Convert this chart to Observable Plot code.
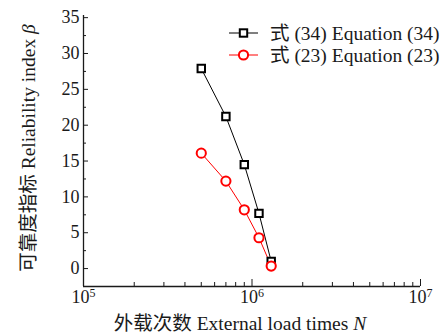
<!DOCTYPE html>
<html>
<head>
<meta charset="utf-8">
<script src="https://cdn.jsdelivr.net/npm/d3@7"></script>
<script src="https://cdn.jsdelivr.net/npm/@observablehq/plot@0.6"></script>
<style>
  html, body { margin: 0; padding: 0; background: #fff; }
  #chart { position: relative; width: 444px; height: 336px; }
  svg text { font-family: "Liberation Serif", "Noto Sans CJK SC", serif; }
</style>
</head>
<body>
<div id="chart"></div>
<script>
// ---- data ----
const loadTimes = [5.0e5, 7.0e5, 9.0e5, 1.1e6, 1.3e6];
const betaEq34 = [27.9, 21.2, 14.5, 7.7, 1.0];
const betaEq23 = [16.1, 12.2, 8.2, 4.3, 0.35];
const seriesNames = ["式 (34) Equation (34)", "式 (23) Equation (23)"];
const seriesColors = ["#000000", "#ff0000"];
const yTicks = [0, 5, 10, 15, 20, 25, 30, 35];
const yMinorTicks = [2.5, 7.5, 12.5, 17.5, 22.5, 27.5, 32.5];
const xTicks = [1e5, 1e6, 1e7];
const xMinorTicks = [2e5,3e5,4e5,5e5,6e5,7e5,8e5,9e5,2e6,3e6,4e6,5e6,6e6,7e6,8e6,9e6];
const xTitle = "外载次数 External load times ";
const yTitle = "可靠度指标 Reliability index ";

const d34 = loadTimes.map((n, i) => ({N: n, beta: betaEq34[i]}));
const d23 = loadTimes.map((n, i) => ({N: n, beta: betaEq23[i]}));
const xDomain = [1e5, 1e7];
const yDomain = [-2.5, 35.3];

const plot = Plot.plot({
  width: 444,
  height: 336,
  marginLeft: 83,
  marginRight: 24,
  marginTop: 15,
  marginBottom: 50,
  style: {fontFamily: '"Liberation Serif", "Noto Sans CJK SC", serif', fontSize: "18px", color: "#1a1a1a", background: "#fff"},
  x: {type: "log", domain: xDomain},
  y: {domain: yDomain},
  marks: [
    Plot.ruleX([xDomain[0]], {stroke: "#1a1a1a", strokeWidth: 1.3}),
    Plot.ruleY([yDomain[0]], {stroke: "#1a1a1a", strokeWidth: 1.3}),
    Plot.axisY({ticks: yTicks, tickSize: -5, tickPadding: 9, tickFormat: d => d, fontSize: 18, label: null, stroke: "#1a1a1a"}),
    Plot.axisY({ticks: yMinorTicks, tickSize: -3, tickFormat: () => "", label: null}),
    Plot.axisX({ticks: xTicks, tickSize: -7, tickPadding: 11, tickFormat: d => "10|" + Math.round(Math.log10(d)), fontSize: 18, label: null}),
    Plot.axisX({ticks: xMinorTicks, tickSize: -4, tickFormat: () => "", label: null}),
    Plot.line(d34, {x: "N", y: "beta", stroke: seriesColors[0], strokeWidth: 1}),
    Plot.line(d23, {x: "N", y: "beta", stroke: seriesColors[1], strokeWidth: 1}),
    Plot.dot(d34, {x: "N", y: "beta", symbol: "square", r: 4.2, stroke: seriesColors[0], strokeWidth: 2, fill: "white"}),
    Plot.dot(d23, {x: "N", y: "beta", symbol: "circle", r: 4.6, stroke: seriesColors[1], strokeWidth: 2, fill: "white"})
  ]
});

document.getElementById("chart").appendChild(plot);

// superscript exponents in x tick labels
const svg = d3.select(plot);
svg.selectAll("text").each(function() {
  const t = d3.select(this);
  const s = t.text();
  if (/^10\|\d$/.test(s)) {
    const e = s.split("|")[1];
    t.text("10");
    t.append("tspan").attr("dy", "-0.55em").attr("font-size", "12px").text(e);
  }
});

// axis titles
svg.append("text")
  .attr("x", 240).attr("y", 330)
  .attr("text-anchor", "middle").attr("font-size", 19.5).attr("fill", "#1a1a1a")
  .text(xTitle)
  .append("tspan").attr("font-style", "italic").text("N");
svg.append("text")
  .attr("transform", "translate(35,148) rotate(-90)")
  .attr("text-anchor", "middle").attr("font-size", 19.5).attr("fill", "#1a1a1a")
  .text(yTitle)
  .append("tspan").attr("font-style", "italic").text("β");

// legend
const lg = svg.append("g").attr("transform", "translate(229,33)");
seriesNames.forEach((name, i) => {
  const g = lg.append("g").attr("transform", `translate(0,${i * 22})`);
  g.append("line").attr("x1", 0).attr("x2", 29).attr("y1", 0).attr("y2", 0)
    .attr("stroke", seriesColors[i]).attr("stroke-width", 1);
  if (i === 0) {
    g.append("rect").attr("x", 14.5 - 3.7).attr("y", -3.7).attr("width", 7.4).attr("height", 7.4)
      .attr("fill", "white").attr("stroke", seriesColors[i]).attr("stroke-width", 2);
  } else {
    g.append("circle").attr("cx", 14.5).attr("cy", 0).attr("r", 4.6)
      .attr("fill", "white").attr("stroke", seriesColors[i]).attr("stroke-width", 2);
  }
  g.append("text").attr("x", 41).attr("y", 6.5).attr("text-anchor", "start")
    .attr("font-size", 19.5).attr("fill", "#1a1a1a").text(name);
});
</script>
</body>
</html>
